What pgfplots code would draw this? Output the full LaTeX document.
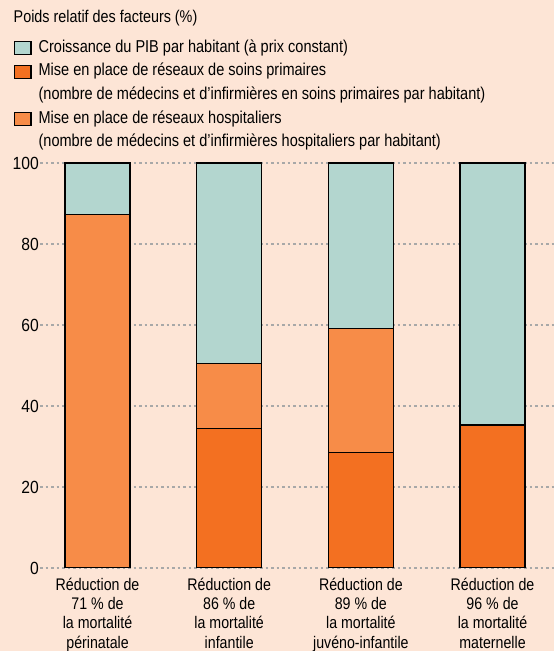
\documentclass[border=0pt]{standalone}
\usepackage{pgfplots}
\pgfplotsset{compat=1.18}
\usepackage{fontspec}
\setmainfont{Liberation Sans}[FakeStretch=0.845]
\newfontfamily\numfont{Liberation Sans}[FakeStretch=0.89]
\definecolor{bg}{RGB}{253,229,214}
\definecolor{gdp}{RGB}{179,214,207}
\definecolor{prim}{RGB}{243,112,33}
\definecolor{hosp}{RGB}{247,140,72}
\definecolor{gridc}{RGB}{168,168,168}
\begin{document}
\begin{tikzpicture}
\fill[bg] (0,0) rectangle (554bp,651bp);
\useasboundingbox (0,0) rectangle (554bp,651bp);
\node[anchor=base west, inner sep=0pt, font=\fontsize{17bp}{20bp}\selectfont] at (13.5bp,628bp) {Poids relatif des facteurs (\%)};
\begin{axis}[
  at={(40bp,83bp)}, anchor=south west,
  scale only axis, width=514bp, height=405bp,
  ybar stacked, bar width=65bp,
  xmin=-0.437, xmax=3.467, ymin=0, ymax=100,
  enlargelimits=false,
  axis line style={draw=none},
  ytick={0,20,40,60,80,100},
  xtick={0,1,2,3},
  xticklabels={{Réduction de\\71 \% de\\la mortalité\\périnatale},
               {Réduction de\\86 \% de\\la mortalité\\infantile},
               {Réduction de\\89 \% de\\la mortalité\\juvéno-infantile},
               {Réduction de\\96 \% de\\la mortalité\\maternelle}},
  xticklabel style={align=center, inner sep=0pt, anchor=north, yshift=-10bp, font=\fontsize{16.8bp}{19.2bp}\selectfont},
  yticklabel style={inner sep=0pt, anchor=east, xshift=-1bp, font=\numfont\fontsize{17.6bp}{19bp}\selectfont},
  /pgf/number format/assume math mode=true,
  ymajorgrids, major grid style={gridc, line width=1.3bp, dash pattern=on 2.5bp off 3bp},
  major tick length=0pt, tick style={draw=none},
  every axis plot/.append style={draw=black, line width=1.2bp},
  legend style={draw=none, fill=none, at={(axis description cs:-0.0506,1.304)}, anchor=north west,
    inner sep=0pt, outer sep=0pt, row sep=7.1bp,
    font=\fontsize{17.2bp}{19bp}\selectfont,
    nodes={inner sep=0pt, text height=12.5bp, text depth=4bp, anchor=west},
    /tikz/every odd column/.append style={column sep=7bp}},
  legend cell align=left,
  legend image code/.code={\draw[#1, line width=1.1bp] (0bp,-6.6bp) rectangle (16.5bp,6.6bp);},
]
\addlegendimage{fill=gdp, draw=black}
\addlegendentry{Croissance du PIB par habitant (à prix constant)}
\addlegendimage{fill=prim, draw=black}
\addlegendentry{Mise en place de réseaux de soins primaires}
\addlegendimage{empty legend}
\addlegendentry{(nombre de médecins et d’infirmières en soins primaires par habitant)}
\addlegendimage{fill=hosp, draw=black}
\addlegendentry{Mise en place de réseaux hospitaliers}
\addlegendimage{empty legend}
\addlegendentry{(nombre de médecins et d’infirmières hospitaliers par habitant)}
\addplot[fill=prim, forget plot] coordinates {(0,0) (1,34.5) (2,28.5) (3,35.3)};
\addplot[fill=hosp, forget plot] coordinates {(0,87.2) (1,16) (2,30.7) (3,0)};
\addplot[fill=gdp, forget plot] coordinates {(0,12.8) (1,49.5) (2,40.8) (3,64.7)};
\end{axis}
\end{tikzpicture}
\end{document}
